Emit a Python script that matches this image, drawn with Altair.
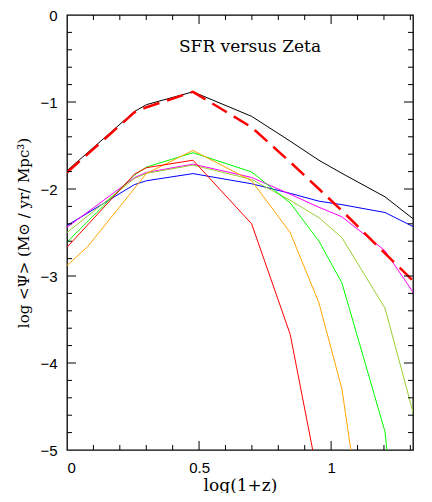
import altair as alt
import pandas as pd

# ---- data ----
x_vals = [0.0, 0.079, 0.255, 0.301, 0.477, 0.699, 0.845, 0.954, 1.041, 1.204, 1.322]

blue    = [-2.42, None, -1.95, -1.905, -1.823, -1.94, -2.05, -2.14, -2.18, -2.27, -2.45]
magenta = [-2.44, None, -1.87, -1.81, -1.714, -1.867, -2.06, -2.21, -2.32, -2.71, -3.24]
olive   = [-2.50, None, -1.88, -1.82, -1.725, -1.89, -2.13, -2.33, -2.56, -3.37, -4.70]
green   = [-2.61, None, -1.84, -1.748, -1.583, -1.804, -2.16, -2.60, -3.08, -4.79, -8.3]
orange  = [-2.88, -2.66, None, -1.82, -1.557, -1.905, -2.50, -3.31, -4.30, -7.7, None]
red     = [-2.67, None, -1.83, -1.755, -1.669, -2.40, -3.67, -5.37, None, None, None]
black   = [-1.79, None, -1.11, -1.03, -0.883, -1.165, -1.45, -1.67, -1.82, -2.09, -2.37]
red_dashed = [-1.81, None, -1.12, -1.06, -0.883, -1.29, -1.69, -2.00, -2.25, -2.74, -3.09]

series_names  = ["blue", "magenta", "olive", "green", "orange", "red", "black"]
series_values = [blue, magenta, olive, green, orange, red, black]
series_colors = ["#0000ff", "#ff00ff", "#9acd32", "#00ff00", "#ffa500", "#ff0000", "#000000"]

x_major_ticks = [0.5, 1.0]
x_minor_ticks = [0.1, 0.2, 0.3, 0.4, 0.6, 0.7, 0.8, 0.9, 1.1, 1.2, 1.3]
x_tick_labels = [0, 0.5, 1]
y_major_ticks = [-1, -2, -3, -4]
y_minor_ticks = [-0.2, -0.4, -0.6, -0.8, -1.2, -1.4, -1.6, -1.8, -2.2, -2.4, -2.6, -2.8,
                 -3.2, -3.4, -3.6, -3.8, -4.2, -4.4, -4.6, -4.8]
y_tick_labels = [0, -1, -2, -3, -4, -5]

plot_title = ["SFR versus Zeta"]
x_title = "log(1+z)"
y_title = "log <Ψ> (M⊙ / yr/ Mpc³)"

# ---- build tables ----
rows = []
for name, vals in zip(series_names, series_values):
    for xv, yv in zip(x_vals, vals):
        if yv is not None:
            rows.append({"series": name, "x": xv, "y": yv})
df = pd.DataFrame(rows)
df_dash = pd.DataFrame([{"x": xv, "y": yv} for xv, yv in zip(x_vals, red_dashed) if yv is not None])

W, H = 346, 435
MAJ, MIN = 9, 5
X_MIN, X_MAX = 0, 1.31
Y_MIN, Y_MAX = -5, 0
xscale = alt.Scale(domain=[X_MIN, X_MAX], nice=False, zero=False)
yscale = alt.Scale(domain=[Y_MIN, Y_MAX], nice=False, zero=False)


def lx(px):  # pixel length -> x data length
    return px * (X_MAX - X_MIN) / W


def ly(px):  # pixel length -> y data length
    return px * (Y_MAX - Y_MIN) / H


# inward tick marks on all four sides, as two-point segments through the scales
tick_rows = []
tid = 0
for vals, px in ((x_major_ticks, MAJ), (x_minor_ticks, MIN)):
    for v in vals:
        for y0, y1 in ((Y_MIN, Y_MIN + ly(px)), (Y_MAX, Y_MAX - ly(px))):
            tick_rows += [{"id": tid, "x": v, "y": y0}, {"id": tid, "x": v, "y": y1}]
            tid += 1
for vals, px in ((y_major_ticks, MAJ), (y_minor_ticks, MIN)):
    for v in vals:
        for x0, x1 in ((X_MIN, X_MIN + lx(px)), (X_MAX, X_MAX - lx(px))):
            tick_rows += [{"id": tid, "x": x0, "y": v}, {"id": tid, "x": x1, "y": v}]
            tid += 1
df_ticks = pd.DataFrame(tick_rows)

x_axis = alt.Axis(values=x_tick_labels, format="~g", title=x_title, ticks=False,
                  domain=False, grid=False, labelPadding=10, titlePadding=2, titleFontSize=17)
y_axis = alt.Axis(values=y_tick_labels, format="d", title=y_title, ticks=False,
                  domain=False, grid=False, labelPadding=10, titlePadding=8, titleFontSize=15)


def X():
    return alt.X("x:Q", scale=xscale, axis=x_axis)


def Y():
    return alt.Y("y:Q", scale=yscale, axis=y_axis)


lines = alt.Chart(df).mark_line(strokeWidth=1, clip=True).encode(
    x=X(), y=Y(),
    color=alt.Color("series:N", scale=alt.Scale(domain=series_names, range=series_colors), legend=None),
    detail="series:N",
)

dashed = alt.Chart(df_dash).mark_line(color="#ff0000", strokeWidth=2.5, strokeDash=[17, 8], clip=True).encode(
    x=X(), y=Y(),
)

ticks = alt.Chart(df_ticks).mark_line(color="black", strokeWidth=1).encode(
    x=X(), y=Y(), detail="id:N",
)

title_layer = alt.Chart(pd.DataFrame({"t": plot_title})).mark_text(
    font="DejaVu Serif", fontSize=17, color="black", align="center", baseline="middle"
).encode(text="t:N", x=alt.value(183), y=alt.value(32))

chart = alt.layer(lines, dashed, ticks, title_layer).properties(
    width=W, height=H,
    padding={"left": 8, "top": 0, "right": 0, "bottom": 0},
).configure_view(
    stroke="black", strokeWidth=1.3
).configure_axis(
    labelFont="Liberation Sans", labelFontSize=15, labelColor="black",
    titleFont="DejaVu Serif", titleFontWeight="normal", titleColor="black",
)

chart.save("out.html", embed_options={"renderer": "svg", "actions": False})
